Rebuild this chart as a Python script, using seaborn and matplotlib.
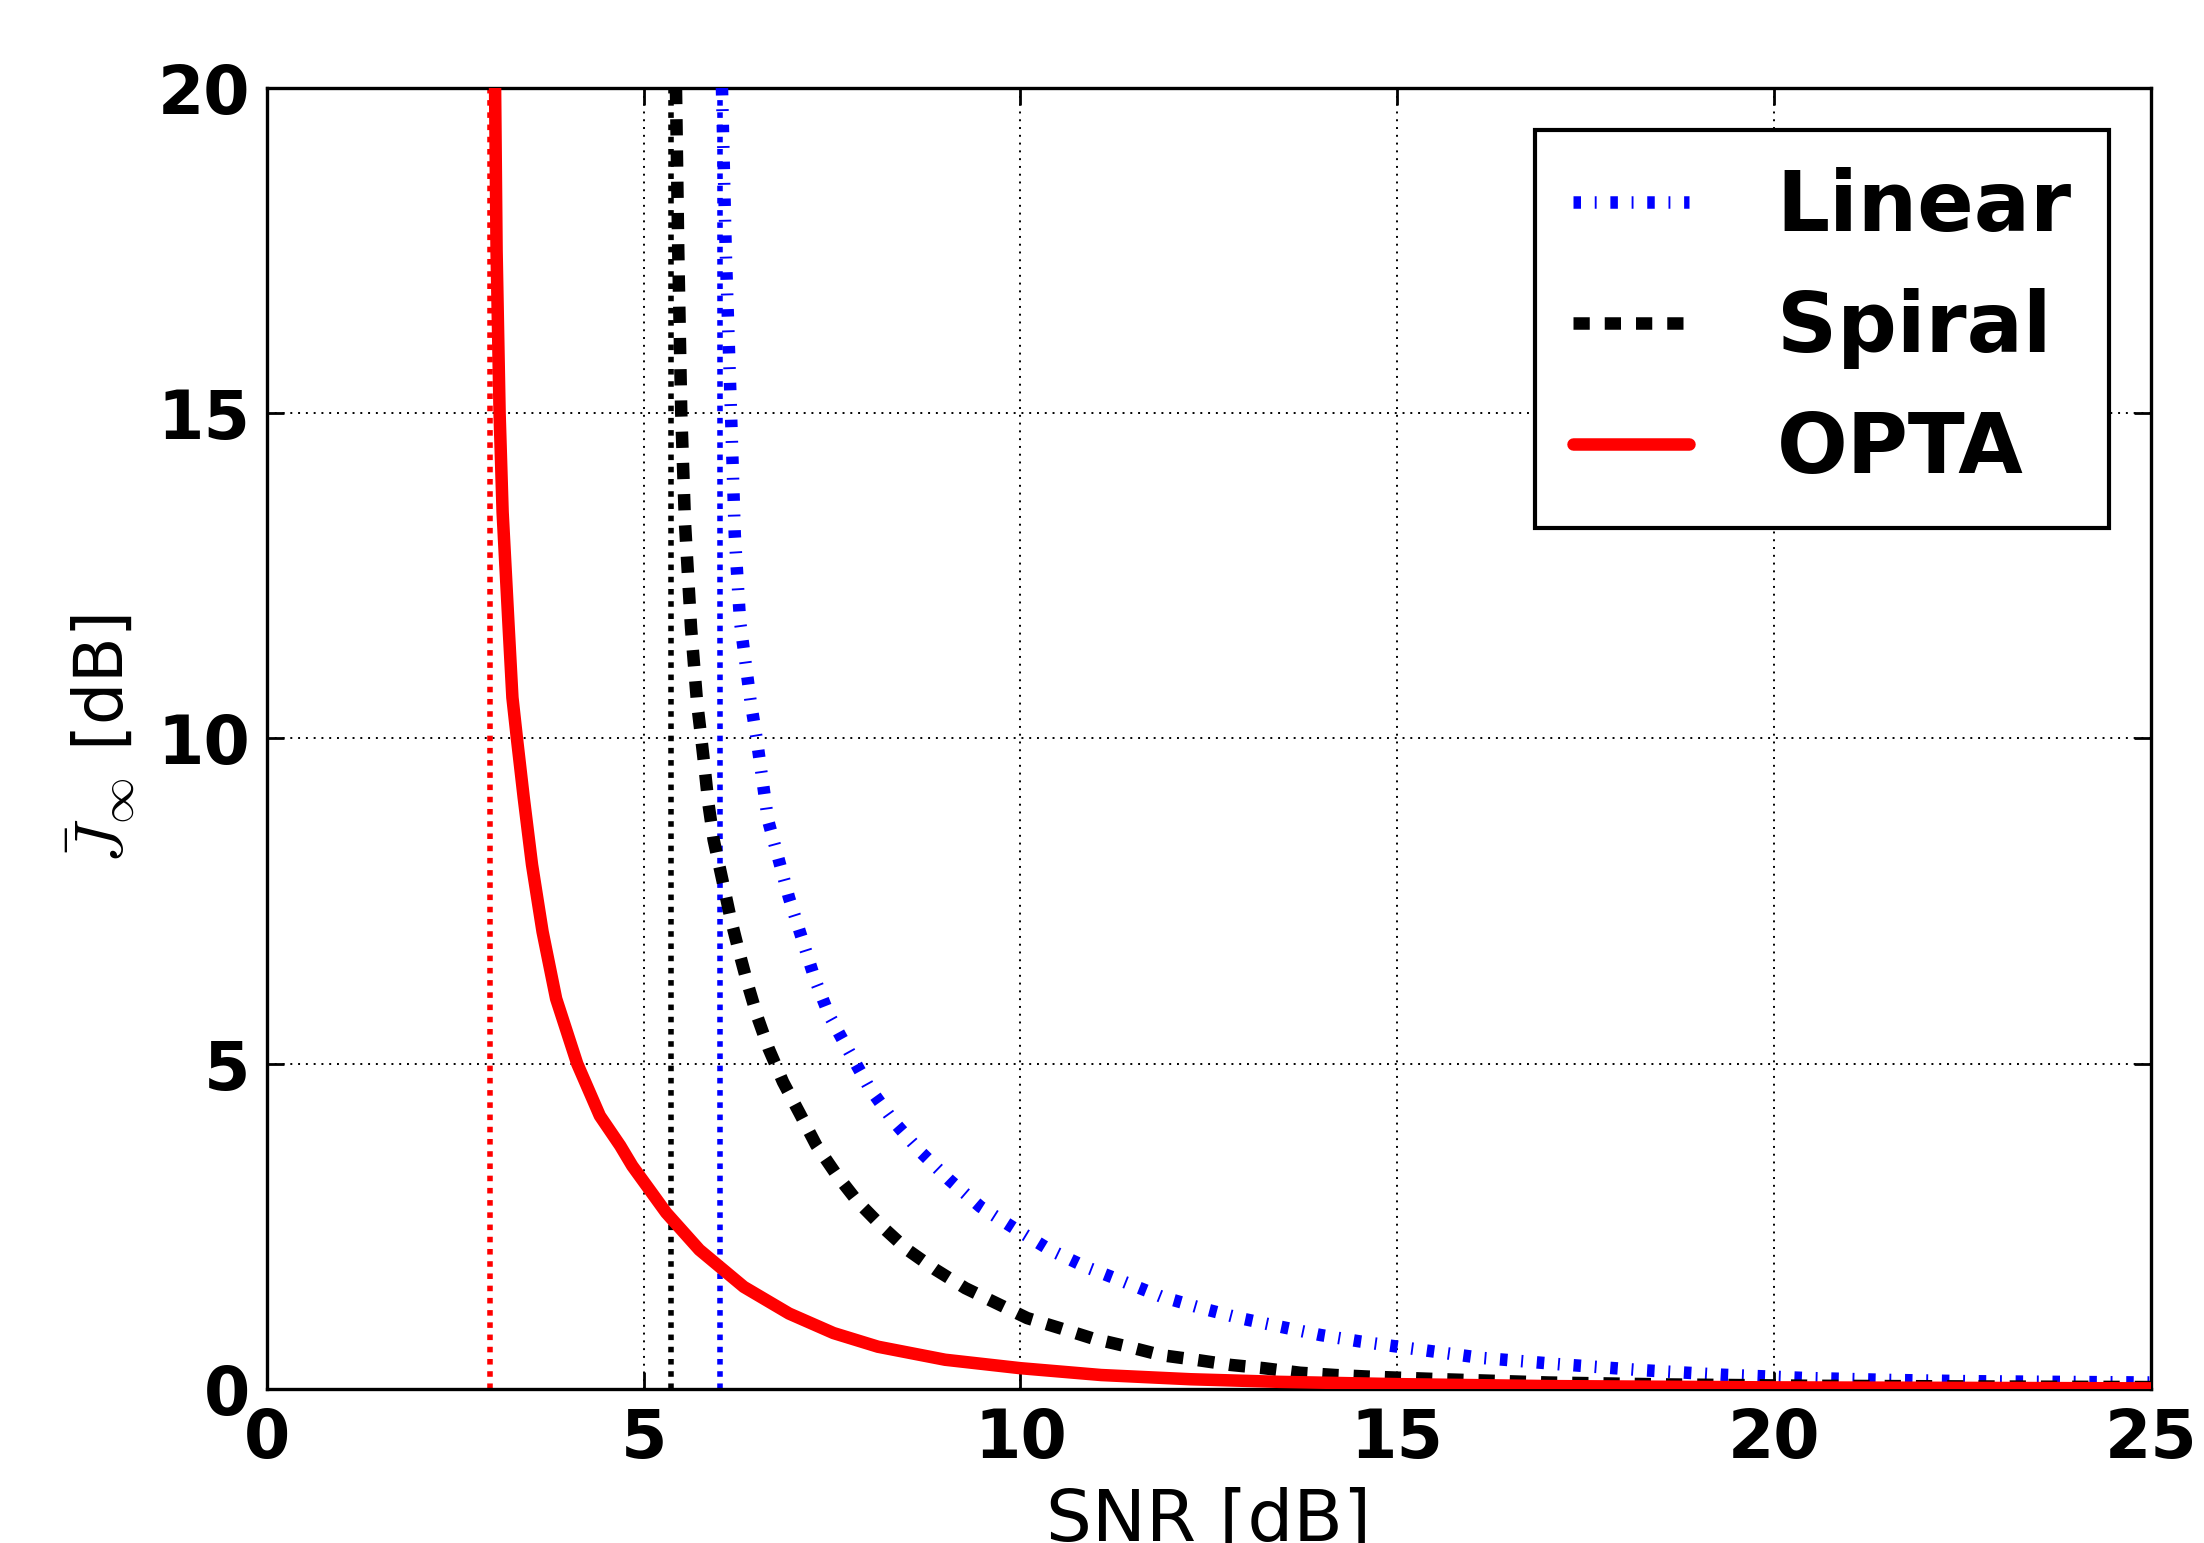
import matplotlib
matplotlib.use("Agg")
import matplotlib.pyplot as plt
import seaborn as sns
import pandas as pd

# ---- data ----
linear_snr = [6.04, 6.09, 6.16, 6.21, 6.28, 6.42, 6.50, 6.58, 6.65, 6.93, 7.10, 7.27, 7.46, 7.73,
              7.99, 8.32, 8.67, 9.06, 9.47, 9.92, 10.39, 10.86, 11.37, 11.87, 12.41, 12.91,
              13.44, 13.98, 14.51, 15.01, 16.1, 17.16, 18.24, 19.3, 20.4, 21.5, 22.6, 23.7, 25.0]
linear_j = [20, 17.5, 15, 13.13, 11.8, 10.57, 10.0, 9.34, 8.75, 7.55, 6.93, 6.31, 5.75, 5.18,
            4.64, 4.11, 3.65, 3.21, 2.80, 2.47, 2.14, 1.88, 1.65, 1.42, 1.24, 1.09,
            0.96, 0.83, 0.73, 0.65, 0.48, 0.38, 0.29, 0.22, 0.17, 0.14, 0.12, 0.11, 0.10]

spiral_snr = [5.43, 5.46, 5.50, 5.55, 5.63, 5.71, 5.76, 5.81, 5.86, 5.93, 6.05, 6.15, 6.26, 6.38,
              6.51, 6.66, 6.85, 7.07, 7.29, 7.55, 7.84, 8.17, 8.50, 8.88, 9.27, 9.68, 10.09,
              10.54, 10.95, 11.43, 11.87, 12.32, 12.79, 13.23, 13.71, 14.18, 14.63, 15.6, 17.0,
              18.6, 20.5, 22.5, 25.0]
spiral_j = [20, 17.5, 15, 13.3, 11.7, 10.55, 10.06, 9.55, 9.0, 8.44, 7.80, 7.26, 6.75, 6.23,
            5.72, 5.23, 4.72, 4.24, 3.75, 3.31, 2.88, 2.49, 2.14, 1.83, 1.55, 1.32, 1.09,
            0.93, 0.78, 0.65, 0.52, 0.45, 0.37, 0.32, 0.25, 0.215, 0.19, 0.15, 0.10,
            0.07, 0.05, 0.04, 0.03]

opta_snr = [3.03, 3.05, 3.09, 3.13, 3.21, 3.26, 3.32, 3.41, 3.52, 3.66, 3.84, 4.12, 4.42, 4.69,
            4.85, 5.30, 5.74, 6.33, 6.93, 7.52, 8.11, 9.0, 10.0, 11.07, 12.26, 13.44, 15.0,
            17.0, 20.0, 25.0]
opta_j = [20, 17.5, 15, 13.48, 11.71, 10.63, 10.0, 9.09, 8.06, 7.03, 6.0, 5.0, 4.2, 3.74,
          3.43, 2.71, 2.14, 1.57, 1.16, 0.86, 0.65, 0.45, 0.32, 0.215, 0.15, 0.11, 0.075,
          0.045, 0.025, 0.01]

asymptote_snr = [2.96, 5.36, 6.01]
asymptote_colors = ["red", "black", "blue"]

series_names = ["Linear", "Spiral", "OPTA"]
x_ticks = [0, 5, 10, 15, 20, 25]
y_ticks = [0, 5, 10, 15, 20]

sns.set_theme(style="white")
plt.rcParams["mathtext.fontset"] = "cm"
plt.rcParams["font.family"] = ["DejaVu Sans"]
plt.rcParams["text.color"] = "black"
plt.rcParams["axes.labelcolor"] = "black"

fig = plt.figure(figsize=(11.02, 7.715), dpi=200)
ax = fig.add_axes([0.121, 0.0998, 0.855, 0.8432])

# asymptote lines
for xv, c in zip(asymptote_snr, asymptote_colors):
    ax.axvline(xv, color=c, linestyle=(0, (1, 1.2)), linewidth=2.0, zorder=2)

styles = {
    "Linear": dict(color="blue", linestyle=(0, (0.6, 1.1, 0.15, 1.1))),
    "Spiral": dict(color="black", linestyle=(0, (1.3, 1.2))),
    "OPTA": dict(color="red", linestyle="-"),
}
data = {
    "Linear": (linear_snr, linear_j),
    "Spiral": (spiral_snr, spiral_j),
    "OPTA": (opta_snr, opta_j),
}
for name in series_names:
    xs, ys = data[name]
    df = pd.DataFrame({"SNR": xs, "J": ys})
    sns.lineplot(data=df, x="SNR", y="J", ax=ax, sort=False, label=name,
                 linewidth=4.5, zorder=3, **styles[name])

ax.set_xlim(0, 25)
ax.set_ylim(0, 20)
ax.set_xticks(x_ticks)
ax.set_yticks(y_ticks)
ax.set_xticklabels([str(t) for t in x_ticks], fontsize=24, fontweight="bold")
ax.set_yticklabels([str(t) for t in y_ticks], fontsize=24, fontweight="bold")
ax.tick_params(direction="in", length=6, width=1, top=True, right=True,
               bottom=True, left=True, pad=6, colors="black")
ax.grid(True, color="black", linestyle=(0, (1, 3)), linewidth=0.7)
for s in ax.spines.values():
    s.set_color("black")
    s.set_linewidth(1.2)

ax.set_xlabel("SNR [dB]", fontsize=26, color="black")
ax.xaxis.set_label_coords(0.5, -0.075)
ax.set_ylabel(r"$\bar{J}_\infty$ [dB]", fontsize=24, labelpad=7, color="black")

leg = ax.legend(loc="upper right", prop={"weight": "bold", "size": 30},
                handlelength=1.4, handletextpad=1.05, borderpad=0.45, labelspacing=0.48,
                fancybox=False, framealpha=1, edgecolor="black", borderaxespad=0.5)
leg.get_frame().set_linewidth(1.5)
for t in leg.get_texts():
    t.set_color("black")

fig.savefig("out.png", dpi=200)
